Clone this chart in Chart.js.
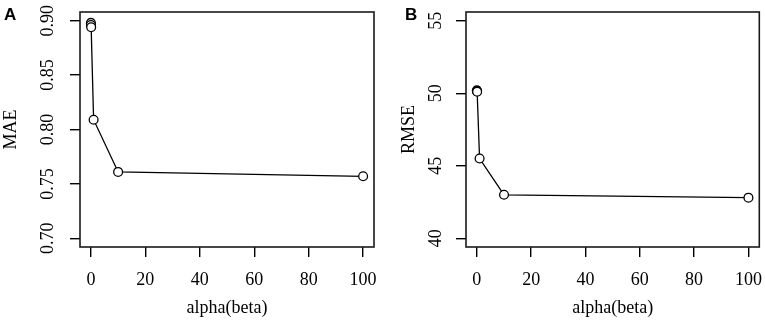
<!DOCTYPE html>
<html>
<head>
<meta charset="utf-8">
<script src="https://cdn.jsdelivr.net/npm/chart.js@4.4.1/dist/chart.umd.min.js"></script>
<style>
  body { margin: 0; background: #fff; }
  #wrap { position: relative; width: 765px; height: 321px; }
  canvas { position: absolute; top: 0; }
  .tag { position: absolute; top: 5px; line-height: 1; font: bold 17px "Liberation Sans", Arial, sans-serif; color: #000; }
</style>
</head>
<body>
<div id="wrap">
  <canvas id="chartA" width="382" height="321" style="left:0"></canvas>
  <canvas id="chartB" width="383" height="321" style="left:382px"></canvas>
  <div class="tag" style="left:4px">A</div>
  <div class="tag" style="left:405px">B</div>
</div>
<script>
const alphaValues = [0, 0.01, 0.1, 1, 10, 100];
const maeValues = [0.898, 0.896, 0.894, 0.809, 0.761, 0.757];
const rmseValues = [50.2, 50.15, 50.1, 45.5, 43.0, 42.8];
const alphaTicks = [0, 20, 40, 60, 80, 100];
const maeTicks = [0.70, 0.75, 0.80, 0.85, 0.90];
const rmseTicks = [40, 45, 50, 55];
const maeLimits = [0.70, 0.90];
const rmseLimits = [40, 55];

const serif = 'Liberation Serif';

// R style: axis range padded by 4% on each side
function padRange(lo, hi) {
    const d = (hi - lo) * 0.04;
    return [lo - d, hi + d];
}

// plot box round the chart area, like box() in R
const boxPlugin = {
    id: 'box',
    afterDraw(chart) {
        const a = chart.chartArea;
        const ctx = chart.ctx;
        ctx.save();
        ctx.strokeStyle = '#1a1a1a';
        ctx.lineWidth = 1.6;
        ctx.strokeRect(a.left, a.top, a.right - a.left, a.bottom - a.top);
        ctx.restore();
    }
};

function makePanel(id, values, yTicks, yLimits, yTitle, decimals, s) {
    const xr = padRange(alphaValues[0], alphaValues[alphaValues.length - 1]);
    const yr = padRange(yLimits[0], yLimits[1]);
    new Chart(document.getElementById(id).getContext('2d'), {
        type: 'line',
        data: {
            datasets: [{
                data: alphaValues.map((a, i) => ({ x: a, y: values[i] })),
                borderColor: '#000',
                borderWidth: 1.3,
                pointRadius: 4.4,
                pointBorderWidth: 1.3,
                pointBorderColor: '#000',
                pointBackgroundColor: '#fff',
                tension: 0
            }]
        },
        options: {
            responsive: false,
            animation: false,
            devicePixelRatio: 1,
            layout: { padding: { left: 0, top: 12, right: s.right, bottom: 0 } },
            plugins: { legend: { display: false }, tooltip: { enabled: false } },
            scales: {
                x: {
                    type: 'linear',
                    min: xr[0],
                    max: xr[1],
                    afterBuildTicks: sc => { sc.ticks = alphaTicks.map(v => ({ value: v })); },
                    afterFit: sc => {
                        sc.height = 74;
                        sc.paddingLeft = 0;
                        sc.paddingRight = 0;
                    },
                    border: { display: false },
                    grid: { drawOnChartArea: false, drawTicks: true, tickLength: 10, color: '#000', lineWidth: 1.4 },
                    ticks: { color: '#000', padding: 12, maxRotation: 0, font: { family: serif, size: 18 } },
                    title: { display: true, text: 'alpha(beta)', color: '#000', padding: { top: 0, bottom: 2 }, font: { family: serif, size: 18 } }
                },
                y: {
                    type: 'linear',
                    min: yr[0],
                    max: yr[1],
                    afterBuildTicks: sc => { sc.ticks = yTicks.map(v => ({ value: v })); },
                    afterFit: sc => {
                        sc.width = s.yWidth;
                        sc.paddingTop = 0;
                        sc.paddingBottom = 0;
                    },
                    border: { display: false },
                    grid: { drawOnChartArea: false, drawTicks: true, tickLength: 10, color: '#000', lineWidth: 1.4 },
                    ticks: {
                        color: '#000',
                        minRotation: 90,
                        maxRotation: 90,
                        crossAlign: 'center',
                        align: 'end',
                        padding: s.tickPad,
                        font: { family: serif, size: 18 },
                        callback: v => v.toFixed(decimals)
                    },
                    title: { display: true, text: yTitle, color: '#000', padding: { top: s.titlePad, bottom: 0 }, font: { family: serif, size: 18 } }
                }
            }
        },
        plugins: [boxPlugin]
    });
}

makePanel('chartA', maeValues, maeTicks, maeLimits, 'MAE', 2, { yWidth: 80, right: 8, tickPad: -3, titlePad: 0 });
makePanel('chartB', rmseValues, rmseTicks, rmseLimits, 'RMSE', 0, { yWidth: 84, right: 5, tickPad: 2, titlePad: 16 });
</script>
</body>
</html>
